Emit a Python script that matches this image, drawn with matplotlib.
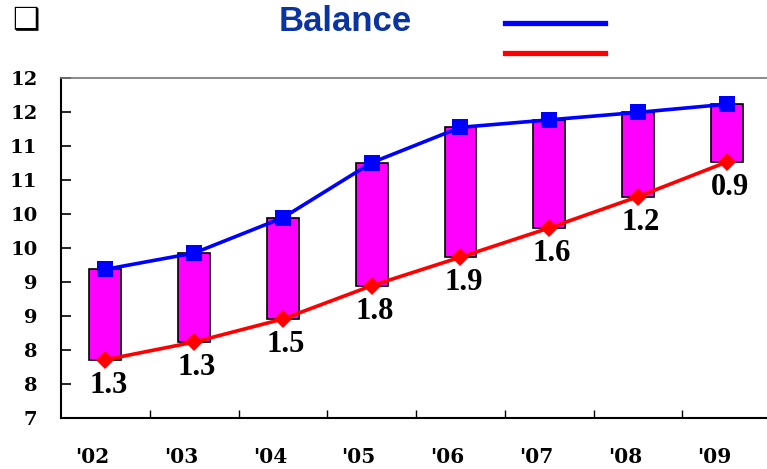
import numpy as np
import matplotlib
matplotlib.use("Agg")
import matplotlib.pyplot as plt
from matplotlib.lines import Line2D
from matplotlib.ticker import FuncFormatter, MultipleLocator
from matplotlib.transforms import ScaledTranslation

# data
years = ["'02", "'03", "'04", "'05", "'06", "'07", "'08", "'09"]
upper = [9.18, 9.42, 9.94, 10.75, 11.27, 11.38, 11.49, 11.61]
lower = [7.85, 8.11, 8.45, 8.94, 9.36, 9.79, 10.25, 10.76]
gap_labels = ["1.3", "1.3", "1.5", "1.8", "1.9", "1.6", "1.2", "0.9"]

plt.rcParams["font.family"] = ["Liberation Serif", "DejaVu Serif"]
plt.rcParams["font.weight"] = "bold"

fig = plt.figure(figsize=(7.67, 4.69), dpi=100)
ax = fig.add_axes([0.0795, 0.1098, 0.926, 0.7245])

x = np.arange(len(years))
upper = np.array(upper)
lower = np.array(lower)

# floating bars between the two series
ax.bar(x, upper - lower, bottom=lower, width=0.36, color="#ff00ff",
       edgecolor="black", linewidth=1.2, zorder=2)

ax.plot(x, upper, color="#0000ff", lw=2.6, marker="s", ms=11,
        markeredgewidth=0, zorder=3)
ax.plot(x, lower, color="#ff0000", lw=2.6, marker="D", ms=9,
        markeredgewidth=0, zorder=3)

for xi, yi, lab in zip(x, lower, gap_labels):
    ax.annotate(lab, (xi, yi), xytext=(2, -8), textcoords="offset points",
                ha="center", va="top", fontsize=22, zorder=4)

# axes
ax.set_xlim(-0.5, len(years) - 0.5)
ax.set_ylim(7, 12)
ax.yaxis.set_major_locator(MultipleLocator(0.5))
ax.yaxis.set_major_formatter(FuncFormatter(lambda v, p: "%d" % np.floor(v + 0.5)))
ax.set_xticks(x)
ax.set_xticklabels(years)
ax.set_xticks(x[:-1] + 0.5, minor=True)

ax.tick_params(axis="y", direction="in", length=7, width=1.2, pad=17,
               labelsize=14, labelfontfamily="DejaVu Serif")
ax.tick_params(axis="x", which="major", length=0, pad=21, labelsize=14.5,
               labelfontfamily="DejaVu Serif")
ax.tick_params(axis="x", which="minor", direction="in", length=6, width=1)
for t in ax.get_xticklabels():
    t.set_transform(t.get_transform() + ScaledTranslation(-0.13, 0, fig.dpi_scale_trans))

ax.spines["left"].set_linewidth(1.5)
ax.spines["bottom"].set_linewidth(1.5)
ax.spines["top"].set_color("#777777")
ax.spines["top"].set_linewidth(1.2)
ax.spines["right"].set_visible(False)

# header
fig.text(0.016, 0.955, "\u2751", fontsize=22, ha="left", va="center",
         family=["DejaVu Sans"], fontweight="bold")
fig.text(0.45, 0.955, "Balance", fontsize=25, color="#0a35a0", ha="center",
         va="center", family=["Liberation Sans", "DejaVu Sans"],
         fontweight="bold")
fig.add_artist(Line2D([0.658, 0.789], [0.950, 0.950], color="#0000ff", lw=3.8))
fig.add_artist(Line2D([0.658, 0.789], [0.888, 0.888], color="#ff0000", lw=3.8))

fig.savefig("out.png", dpi=100)
